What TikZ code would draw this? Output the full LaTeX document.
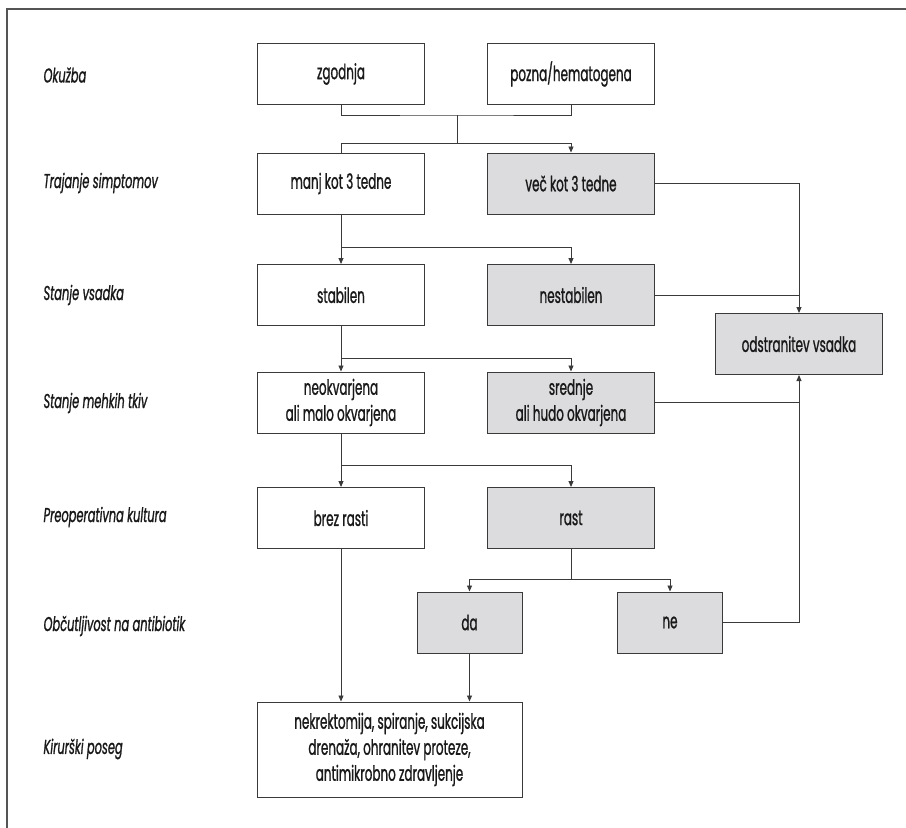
\documentclass[tikz,border=0pt]{standalone}
\usepackage{fontspec}
\setmainfont{Poppins}[FakeStretch=0.57, FakeBold=1]
\usetikzlibrary{arrows.meta}
\definecolor{boxgray}{HTML}{DCDCDE}
\definecolor{linegray}{HTML}{3A3A3A}
\definecolor{framegray}{HTML}{555555}
\begin{document}
\begin{tikzpicture}[x=1pt,y=-1pt,
  every node/.style={font=\fontsize{21}{26}\selectfont, text=black!90},
  wbox/.style={draw=linegray, line width=1pt, minimum width=167pt, minimum height=61pt, align=center, inner sep=0pt},
  gbox/.style={wbox, fill=boxgray},
  lab/.style={anchor=west, font=\fontsize{20}{24}\selectfont\itshape},
  conn/.style={draw=linegray, line width=0.9pt},
  arr/.style={conn, -{Triangle[width=5pt,length=6pt]}}
]
\useasboundingbox (0,0) rectangle (906,828);
\draw[framegray, line width=2pt] (7,828) -- (7,9) -- (906,9);

% left labels
\node[lab] (l1) at (40,75) {Okužba};
\node[lab] (l2) at (40,183) {Trajanje simptomov};
\node[lab] (l3) at (40,295) {Stanje vsadka};
\node[lab] (l4) at (40,403) {Stanje mehkih tkiv};
\node[lab] (l5) at (40,517) {Preoperativna kultura};
\node[lab] (l6) at (40,626) {Občutljivost na antibiotik};
\node[lab] (l7) at (40,749) {Kirurški poseg};

% boxes
\node[wbox] (zg) at (341,74) {zgodnja};
\node[wbox] (po) at (571,74) {pozna/hematogena};
\node[wbox] (ma) at (341,183.5) {manj kot 3 tedne};
\node[gbox] (ve) at (571,183.5) {več kot 3 tedne};
\node[wbox] (st) at (341,295) {stabilen};
\node[gbox] (ne) at (571,295) {nestabilen};
\node[gbox] (od) at (799,344) {odstranitev vsadka};
\node[wbox] (nk) at (341,402.5) {neokvarjena\\ali malo okvarjena};
\node[gbox] (sr) at (571,402.5) {srednje\\ali hudo okvarjena};
\node[wbox] (br) at (341,518) {brez rasti};
\node[gbox] (ra) at (571,518) {rast};
\node[gbox, minimum width=105pt] (da) at (469.5,622.5) {da};
\node[gbox, minimum width=105pt] (nn) at (670,622.5) {ne};
\node[wbox, minimum width=265pt, minimum height=95pt] (ki) at (389.5,749.5) {nekrektomija, spiranje, sukcijska\\drenaža, ohranitev proteze,\\antimikrobno zdravljenje};

% coordinates
\coordinate (j1) at (457,115);
\coordinate (j2) at (457,143);
\coordinate (s2) at (341,247);
\coordinate (s3) at (341,358);
\coordinate (s4) at (341,465);
\coordinate (s5) at (571,579);

% connectors
\draw[conn] (zg.south) |- (j1) -| (po.south);
\draw[conn] (j1) -- (j2);
\draw[conn] (j2) -| (ma.north);
\draw[arr] (j2) -| (ve.north);
\draw[arr] (ma.south) -- (st.north);
\draw[arr] (s2) -| (ne.north);
\draw[arr] (st.south) -- (nk.north);
\draw[arr] (s3) -| (sr.north);
\draw[arr] (nk.south) -- (br.north);
\draw[arr] (s4) -| (ra.north);
\draw[arr] (ve.east) -| (od.north);
\draw[conn] (ne.east) -- (ne.east -| od.north);
\draw[conn] (sr.east) -- (sr.east -| od.south);
\draw[arr] (nn.east) -| (od.south);
\draw[conn] (ra.south) -- (s5);
\draw[arr] (s5) -| (da.north);
\draw[arr] (s5) -| (nn.north);
\draw[arr] (br.south) -- (br.south |- ki.north);
\draw[arr] (da.south) -- (da.south |- ki.north);
\end{tikzpicture}
\end{document}
